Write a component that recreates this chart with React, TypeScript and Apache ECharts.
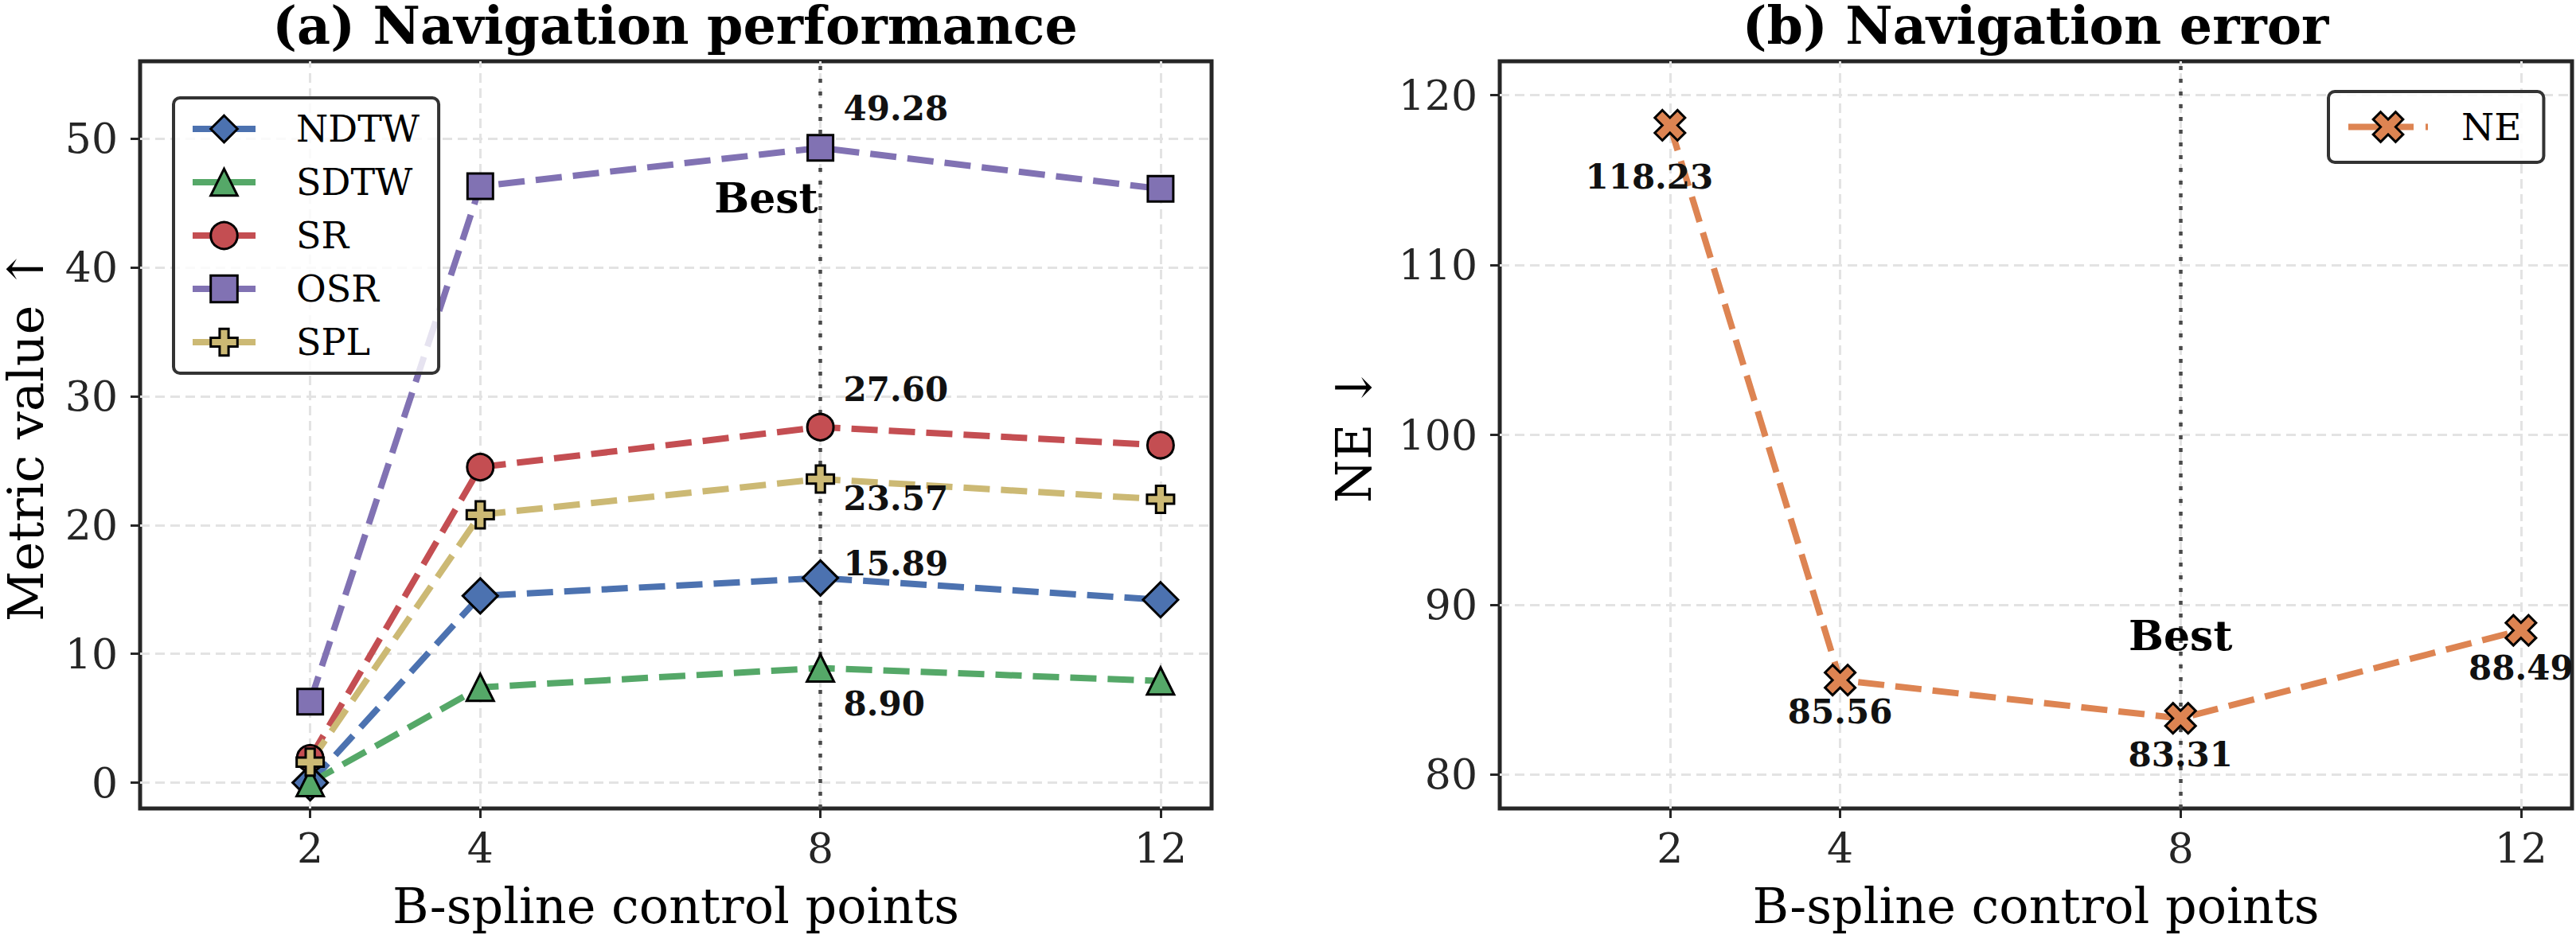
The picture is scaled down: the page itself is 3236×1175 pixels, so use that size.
import React, { useEffect, useRef } from "react";
import * as echarts from "echarts";

// Number of B-spline control points on the x axis
const controlPoints = [2, 4, 8, 12];
const bestCount = 8;

// Navigation performance metrics (higher is better)
const ndtwValues = [0.0, 14.5, 15.89, 14.2];
const sdtwValues = [0.0, 7.4, 8.9, 7.9];
const srValues = [1.9, 24.5, 27.6, 26.2];
const osrValues = [6.3, 46.3, 49.28, 46.1];
const splValues = [1.6, 20.8, 23.57, 22.0];

// Navigation error (lower is better)
const neValues = [118.23, 85.56, 83.31, 88.49];

// Tick values
const metricTicks = [0, 10, 20, 30, 40, 50];
const neTicks = [80, 90, 100, 110, 120];

const FONT = "'DejaVu Serif', 'Liberation Serif', serif";
const INK = "#262626";
const PLUS = "path://M1,0L2,0L2,1L3,1L3,2L2,2L2,3L1,3L1,2L0,2L0,1L1,1Z";
const CROSS = "path://M1,0L2,1L3,0L4,1L3,2L4,3L3,4L2,3L1,4L0,3L1,2L0,1Z";
const LINE_WIDTH = 8;
const LINE_DASH = [33, 14];

const metricSeries = [
  { name: "NDTW", values: ndtwValues, color: "#4C72B0", symbol: "diamond", size: 44, offset: [29, -18] },
  { name: "SDTW", values: sdtwValues, color: "#55A868", symbol: "triangle", size: 34, offset: [29, 45] },
  { name: "SR", values: srValues, color: "#C44E52", symbol: "circle", size: 33, offset: [29, -47] },
  { name: "OSR", values: osrValues, color: "#8172B3", symbol: "rect", size: 32, offset: [29, -49] },
  { name: "SPL", values: splValues, color: "#CCB974", symbol: PLUS, size: 34, offset: [29, 24] },
];

const neLabelOffsets = [
  [-26, 65],
  [0, 40],
  [0, 46],
  [0, 47],
];

const valueLabel = {
  position: "inside",
  verticalAlign: "middle",
  fontFamily: FONT,
  fontWeight: "bold",
  fontSize: 42,
  color: "#111",
  formatter: (p: any) => Number(p.value[1]).toFixed(2),
};

const gridLines = (yTicks: number[]) => ({
  silent: true,
  symbol: "none",
  z: 1,
  label: { show: false },
  emphasis: { disabled: true },
  lineStyle: { color: "#e3e3e3", width: 3, type: [12, 7] },
  data: [
    ...yTicks.map((v) => ({ yAxis: v })),
    ...controlPoints.map((x) => ({ xAxis: x })),
    { xAxis: bestCount, lineStyle: { color: "#4a4a4a", width: 4.5, type: [5, 11] } },
  ],
});

const bestMark = (y: number, align: string, dx: number) => ({
  silent: true,
  symbol: "circle",
  symbolSize: 1,
  itemStyle: { color: "rgba(0,0,0,0)" },
  label: {
    show: true,
    formatter: "Best",
    position: "inside",
    align,
    verticalAlign: "middle",
    offset: [dx, 0],
    fontFamily: FONT,
    fontWeight: "bold",
    fontSize: 52,
    color: "#000",
  },
  data: [{ coord: [bestCount, y] }],
});

const xAxisFor = (gridIndex: number) => ({
  gridIndex,
  type: "value",
  min: 0,
  max: 12.6,
  axisLine: { show: false, onZero: false },
  axisTick: { show: true, customValues: controlPoints, length: 12, lineStyle: { color: INK, width: 3 } },
  axisLabel: { customValues: controlPoints, margin: 24, fontSize: 52, fontFamily: FONT, color: INK },
  splitLine: { show: false },
  name: "B-spline control points",
  nameLocation: "middle",
  nameGap: 122,
  nameTextStyle: { fontSize: 62, fontFamily: FONT, color: "#000", verticalAlign: "middle" },
});

const yAxisFor = (gridIndex: number, min: number, max: number, ticks: number[], name: string, nameGap: number) => ({
  gridIndex,
  type: "value",
  min,
  max,
  axisLine: { show: false },
  axisTick: { show: true, customValues: ticks, length: 12, lineStyle: { color: INK, width: 3 } },
  axisLabel: { customValues: ticks, margin: 28, fontSize: 52, fontFamily: FONT, color: INK },
  splitLine: { show: false },
  name,
  nameLocation: "middle",
  nameGap,
  nameTextStyle: { fontSize: 62, fontFamily: FONT, color: "#000", verticalAlign: "middle" },
});

const buildOption = () => {
  const lineSeries: any[] = metricSeries.map((s, si) => ({
    name: s.name,
    type: "line",
    xAxisIndex: 0,
    yAxisIndex: 0,
    z: 3,
    color: s.color,
    symbol: s.symbol,
    symbolSize: s.size,
    itemStyle: { color: s.color, borderColor: "#000", borderWidth: 3 },
    lineStyle: { color: s.color, width: LINE_WIDTH, type: LINE_DASH },
    emphasis: { disabled: true },
    label: { show: false, ...valueLabel },
    data: controlPoints.map((x, i) => ({
      value: [x, s.values[i]],
      label: x === bestCount ? { show: true, align: "left", offset: s.offset } : undefined,
    })),
    ...(si === 0 ? { markLine: gridLines(metricTicks), markPoint: bestMark(45.4, "right", -3) } : {}),
  }));

  lineSeries.push({
    name: "NE",
    type: "line",
    xAxisIndex: 1,
    yAxisIndex: 1,
    z: 3,
    color: "#DD8452",
    symbol: CROSS,
    symbolSize: 38,
    itemStyle: { color: "#DD8452", borderColor: "#000", borderWidth: 3 },
    lineStyle: { color: "#DD8452", width: LINE_WIDTH, type: LINE_DASH },
    emphasis: { disabled: true },
    label: { show: false, ...valueLabel },
    data: controlPoints.map((x, i) => ({
      value: [x, neValues[i]],
      label: { show: true, align: "center", offset: neLabelOffsets[i] },
    })),
    markLine: gridLines(neTicks),
    markPoint: bestMark(88.2, "center", 0),
  });

  const titleStyle = {
    fontFamily: FONT,
    fontWeight: "bold",
    fontSize: 65,
    fill: "#000",
    align: "center",
    verticalAlign: "middle",
  };

  return {
    animation: false,
    backgroundColor: "#fff",
    graphic: [
      { type: "text", x: 848, y: 32, style: { text: "(a) Navigation performance", ...titleStyle } },
      { type: "text", x: 2557, y: 32, style: { text: "(b) Navigation error", ...titleStyle } },
    ],
    grid: [
      { left: 175, top: 77, width: 1347, height: 939, show: true, borderColor: INK, borderWidth: 5 },
      { left: 1884, top: 77, width: 1347, height: 939, show: true, borderColor: INK, borderWidth: 5 },
    ],
    xAxis: [xAxisFor(0), xAxisFor(1)],
    yAxis: [
      yAxisFor(0, -2, 56, metricTicks, "Metric value ↑", 144),
      yAxisFor(1, 78, 122, neTicks, "NE ↓", 184),
    ],
    legend: [
      {
        orient: "vertical",
        left: 218,
        top: 123,
        data: metricSeries.map((s) => s.name),
        padding: [16, 24, 16, 20],
        itemWidth: 79,
        itemHeight: 42,
        itemGap: 21,
        backgroundColor: "rgba(255,255,255,0.8)",
        borderColor: "#333",
        borderWidth: 4,
        borderRadius: 8,
        selectedMode: false,
        z: 10,
        textStyle: { fontFamily: FONT, fontSize: 46, color: "#000", padding: [0, 0, 0, 46] },
        itemStyle: { borderColor: "#000", borderWidth: 3 },
        lineStyle: { width: LINE_WIDTH, type: "solid" },
      },
      {
        orient: "vertical",
        left: 2925,
        top: 115,
        data: ["NE"],
        padding: [21, 28, 21, 21],
        itemWidth: 100,
        itemHeight: 47,
        backgroundColor: "rgba(255,255,255,0.8)",
        borderColor: "#333",
        borderWidth: 4,
        borderRadius: 8,
        selectedMode: false,
        z: 10,
        textStyle: { fontFamily: FONT, fontSize: 47, color: "#000", padding: [0, 0, 0, 37] },
        itemStyle: { borderColor: "#000", borderWidth: 3 },
        lineStyle: { width: LINE_WIDTH, type: [82, 15] },
      },
    ],
    series: lineSeries,
  };
};

export default function App() {
  const ref = useRef<HTMLDivElement>(null);
  useEffect(() => {
    if (!ref.current) return;
    const chart = echarts.init(ref.current, null, { renderer: "svg" });
    chart.setOption(buildOption() as any);
    return () => chart.dispose();
  }, []);
  return (
    <div
      ref={ref}
      style={{ position: "absolute", left: 0, top: 0, width: 3236, height: 1175, background: "#fff" }}
    />
  );
}
